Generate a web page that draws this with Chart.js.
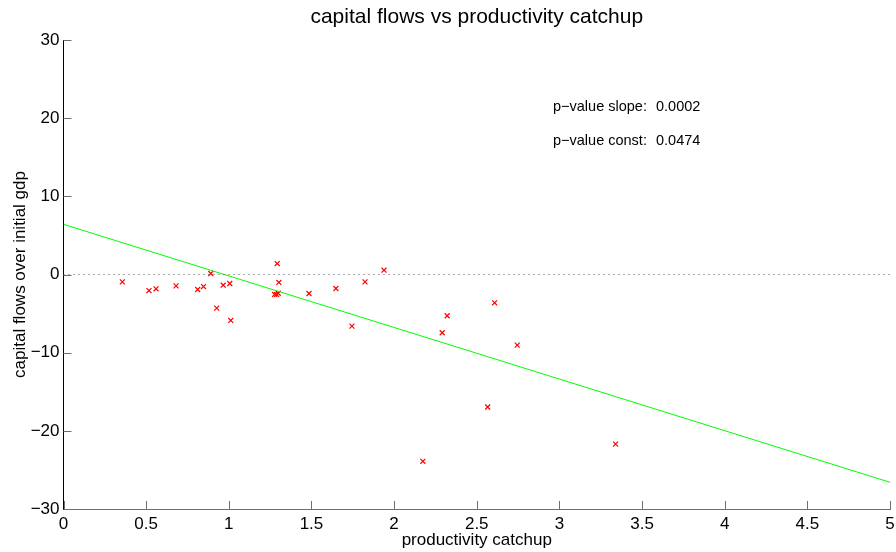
<!DOCTYPE html>
<html>
<head>
<meta charset="utf-8">
<script src="https://cdn.jsdelivr.net/npm/chart.js@4.4.1/dist/chart.umd.min.js"></script>
<style>
  html, body { margin: 0; padding: 0; background: #ffffff; }
  #wrap { width: 896px; height: 552px; position: relative; }
</style>
</head>
<body>
<div id="wrap"><canvas id="c" width="896" height="552"></canvas></div>
<script>
// Country observations: productivity catch-up vs capital flows over initial GDP
const catchup = [0.356, 0.517, 0.560, 0.681, 0.812, 0.847, 0.891, 0.927, 0.966, 1.006,
                 1.012, 1.277, 1.289, 1.293, 1.299, 1.303, 1.485, 1.648, 1.745, 1.824,
                 1.939, 2.174, 2.291, 2.321, 2.566, 2.608, 2.745, 3.340];
const flows   = [-0.94, -2.05, -1.83, -1.45, -1.92, -1.54, 0.13, -4.30, -1.37, -1.15,
                 -5.88, -2.55, -2.55, 1.40, -2.40, -1.02, -2.43, -1.79, -6.60, -0.94,
                 0.55, -23.9, -7.45, -5.28, -16.95, -3.62, -9.03, -21.70];

// Fitted regression line
const fitIntercept = 6.42;
const fitSlope = -6.6;
const fitX = [0, 5];

// Axis ticks
const xTicks = [0, 0.5, 1, 1.5, 2, 2.5, 3, 3.5, 4, 4.5, 5];
const yTicks = [-30, -20, -10, 0, 10, 20, 30];

// Text
const chartTitle = 'capital flows vs productivity catchup';
const xLabel = 'productivity catchup';
const yLabel = 'capital flows over initial gdp';
const statNames = ['p\u2212value slope:', 'p\u2212value const:'];
const statValues = ['0.0002', '0.0474'];

const FONT = '"Liberation Sans", Arial, Helvetica, sans-serif';

const points = catchup.map((x, i) => ({ x: x, y: flows[i] }));
const fitLine = fitX.map(x => ({ x: x, y: fitIntercept + fitSlope * x }));
const zeroLine = [{ x: 0, y: 0 }, { x: 5, y: 0 }];

const decor = {
  id: 'decor',
  afterDraw(chart) {
    const ctx = chart.ctx;
    const xs = chart.scales.x, ys = chart.scales.y;
    const a = chart.chartArea;
    ctx.save();
    // inward tick marks
    ctx.strokeStyle = '#6e6e6e';
    ctx.lineWidth = 1;
    ctx.beginPath();
    xTicks.forEach(v => {
      const px = Math.round(xs.getPixelForValue(v)) + 0.5;
      ctx.moveTo(px, a.bottom);
      ctx.lineTo(px, a.bottom - 8);
    });
    yTicks.forEach(v => {
      const py = Math.round(ys.getPixelForValue(v)) + 0.5;
      ctx.moveTo(a.left, py);
      ctx.lineTo(a.left + 8, py);
    });
    ctx.stroke();

    ctx.fillStyle = '#000000';
    // title
    ctx.font = '21px ' + FONT;
    ctx.textAlign = 'center';
    ctx.textBaseline = 'middle';
    ctx.fillText(chartTitle, (a.left + a.right) / 2, 17);
    // x axis label
    ctx.font = '17px ' + FONT;
    ctx.fillText(xLabel, (a.left + a.right) / 2, 540);
    // y axis label
    ctx.save();
    ctx.translate(20, (a.top + a.bottom) / 2);
    ctx.rotate(-Math.PI / 2);
    ctx.fillText(yLabel, 0, 0);
    ctx.restore();
    // statistics
    ctx.font = '14.5px ' + FONT;
    ctx.textAlign = 'left';
    statNames.forEach((s, i) => {
      const y = 107 + i * 34;
      ctx.fillText(s, 553, y);
      ctx.fillText(statValues[i], 656, y);
    });
    ctx.restore();
  }
};

new Chart(document.getElementById('c'), {
  type: 'scatter',
  data: {
    datasets: [
      {
        label: 'zero',
        data: zeroLine,
        showLine: true,
        borderColor: '#555555',
        borderWidth: 1,
        borderDash: [1, 4],
        pointRadius: 0
      },
      {
        label: 'fit',
        data: fitLine,
        showLine: true,
        borderColor: '#00ff00',
        borderWidth: 1,
        pointRadius: 0
      },
      {
        label: 'observations',
        data: points,
        pointStyle: 'crossRot',
        pointRadius: 3.5,
        borderColor: '#ff0000',
        backgroundColor: '#ff0000',
        borderWidth: 1.2
      }
    ]
  },
  options: {
    responsive: false,
    animation: false,
    events: [],
    layout: { padding: { top: 40, right: 6, left: 0, bottom: 0 } },
    plugins: { legend: { display: false }, tooltip: { enabled: false }, title: { display: false } },
    scales: {
      x: {
        type: 'linear',
        min: 0, max: 5,
        afterBuildTicks: s => { s.ticks = xTicks.map(v => ({ value: v })); },
        afterFit: s => { s.height = 43; s.paddingLeft = 0; s.paddingRight = 0; },
        grid: { display: false, drawTicks: false, tickLength: 0 },
        border: { display: true, color: '#6e6e6e', width: 1 },
        ticks: {
          color: '#000000',
          padding: 5,
          maxRotation: 0,
          font: { family: FONT, size: 17 },
          callback: v => String(v)
        }
      },
      y: {
        type: 'linear',
        min: -30, max: 30,
        afterBuildTicks: s => { s.ticks = yTicks.map(v => ({ value: v })); },
        afterFit: s => { s.width = 63.5; s.paddingTop = 0; s.paddingBottom = 0; },
        grid: { display: false, drawTicks: false, tickLength: 0 },
        border: { display: true, color: '#000000', width: 1 },
        ticks: {
          color: '#000000',
          padding: 4,
          font: { family: FONT, size: 17 },
          callback: v => (v < 0 ? '\u2212' + Math.abs(v) : String(v))
        }
      }
    }
  },
  plugins: [decor]
});
</script>
</body>
</html>
